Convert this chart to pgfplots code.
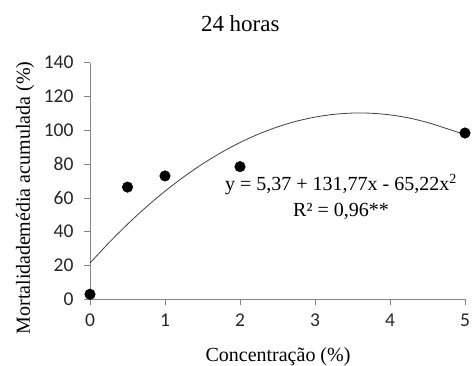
\documentclass[border=0pt]{standalone}
\usepackage{pgfplots}
\pgfplotsset{compat=1.18}
\usepackage{fontspec}
\setmainfont{Liberation Serif}
\newfontfamily\calibri{Carlito}
\definecolor{axisgray}{RGB}{134,134,134}
\begin{document}
\begin{tikzpicture}
\path[use as bounding box] (-90pt,-65.7pt) rectangle (383pt,299.3pt);
\begin{axis}[
  scale only axis,
  width=375pt, height=236.6pt,
  xmin=0, xmax=5, ymin=0, ymax=140,
  axis lines*=left,
  axis line style={axisgray, line width=0.8pt},
  xtick={0,1,2,3,4,5},
  ytick={0,20,40,60,80,100,120,140},
  tick align=outside,
  major tick length=6pt,
  tick style={axisgray, line width=0.8pt},
  every tick label/.append style={font=\fontsize{19.5}{21}\calibri, text=black!85},
  /pgf/number format/assume math mode=true,
  xticklabel style={yshift=-5pt},
  yticklabel style={xshift=-7pt},
  clip=false,
]
\addplot[color=black!75, line width=0.8pt, smooth] coordinates {
(0,21.44) (0.25,33.36) (0.5,44.42) (0.75,54.63) (1,63.97) (1.25,72.46)
(1.5,80.09) (1.75,86.85) (2,92.76) (2.25,97.82) (2.5,102.01) (2.75,105.34)
(3,107.82) (3.25,109.44) (3.5,110.20) (3.75,110.10) (4,109.14) (4.25,107.32)
(4.5,104.64) (4.75,101.11) (5,97.5)
};
\addplot[only marks, mark=*, mark size=5.3pt, color=black] coordinates {
(0,3) (0.5,66.4) (1,73) (2,78.5) (5,98.4)
};
\end{axis}
\node[anchor=base, font=\fontsize{23}{26}\selectfont] at (150.3pt,268.3pt) {24 horas};
\node[anchor=base, rotate=90, font=\fontsize{20}{22}\selectfont] at (-60pt,101.3pt) {Mortalidade\kern-0.5pt média acumulada (\%)};
\node[anchor=base, font=\fontsize{20}{22}\selectfont] at (188pt,-61.7pt) {Concentração (\%)};
\node[anchor=base, font=\fontsize{20}{22}\selectfont] at (251pt,108.6pt) {y = 5,37 + 131,77x - 65,22x\textsuperscript{2}};
\node[anchor=base, font=\fontsize{20}{22}\selectfont] at (251pt,82.6pt) {R² = 0,96**};
\end{tikzpicture}
\end{document}
